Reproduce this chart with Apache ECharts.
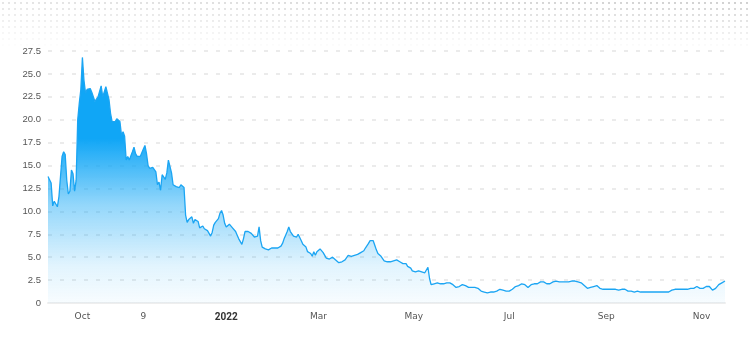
<!DOCTYPE html>
<html>
<head>
<meta charset="utf-8">
<script src="https://cdn.jsdelivr.net/npm/echarts@6/dist/echarts.min.js"></script>
<style>
  html, body { margin:0; padding:0; background:#ffffff; }
  #wrap { position:relative; width:750px; height:343px; overflow:hidden; }
  #dotsH { position:absolute; left:0; top:0; width:750px; height:50px;
    -webkit-mask-image: linear-gradient(to right, rgba(0,0,0,0.55), rgba(0,0,0,1));
    mask-image: linear-gradient(to right, rgba(0,0,0,0.55), rgba(0,0,0,1)); }
  #dots { width:100%; height:100%;
    background-image: radial-gradient(circle, #cfcfcf 1px, rgba(255,255,255,0) 1.4px);
    background-size: 6px 6px;
    -webkit-mask-image: linear-gradient(to bottom, rgba(0,0,0,1), rgba(0,0,0,0));
    mask-image: linear-gradient(to bottom, rgba(0,0,0,1), rgba(0,0,0,0)); }
  #chart { position:absolute; left:0; top:0; width:750px; height:343px; }
</style>
</head>
<body>
<div id="wrap">
  <div id="dotsH"><div id="dots"></div></div>
  <div id="chart"></div>
</div>
<script>
// ---- data ----
const startDate = '2021-09-09'; // one value per day from this date
const prices = [
  13.8, 13.6, 13.1, 10.6, 11.1, 11.2, 10.5, 11.6, 11.7, 16.0,
  16.5, 16.2, 13.4, 11.9, 12.2, 14.5, 14.1, 12.2, 13.4, 20.0,
  21.8, 23.3, 26.8, 24.3, 22.9, 23.3, 23.5, 23.4, 23.0, 23.1,
  22.0, 22.0, 22.5, 23.1, 23.7, 22.5, 22.5, 23.6, 22.9, 22.2,
  20.7, 19.8, 19.9, 19.8, 20.1, 20.3, 19.8, 18.3, 18.7, 18.2,
  15.6, 16.0, 15.6, 15.5, 16.5, 17.0, 16.3, 16.0, 15.9, 16.0,
  15.9, 16.8, 17.2, 16.3, 15.0, 14.7, 14.6, 14.8, 14.6, 14.3,
  12.9, 13.2, 12.3, 14.0, 14.1, 13.5, 14.2, 15.6, 14.9, 14.2,
  12.9, 12.9, 12.7, 12.5, 12.6, 12.9, 13.1, 12.6, 9.6, 8.8,
  9.1, 9.0, 9.4, 8.7, 9.1, 9.1, 8.9, 8.2, 8.4, 8.4,
  8.1, 8.2, 7.9, 7.7, 7.3, 7.7, 8.5, 8.8, 8.9, 9.2,
  9.8, 10.1, 9.6, 8.7, 8.3, 8.3, 8.6, 8.4, 8.2, 8.1,
  7.8, 7.4, 7.0, 6.7, 6.4, 7.0, 7.8, 7.7, 7.8, 7.9,
  7.6, 7.4, 7.2, 7.0, 7.3, 8.3, 6.8, 6.1, 5.9, 5.9,
  5.9, 5.8, 5.8, 6.0, 5.8, 6.0, 5.9, 6.0, 5.9, 6.2,
  6.5, 7.0, 7.4, 7.8, 8.3, 7.8, 8.0, 7.3, 7.1, 7.2,
  7.5, 7.5, 6.8, 6.4, 6.4, 6.1, 5.6, 5.4, 5.4, 5.1,
  5.6, 5.2, 5.6, 5.5, 5.9, 6.0, 5.5, 5.2, 4.9, 4.9,
  4.8, 4.9, 5.0, 4.8, 4.7, 4.6, 4.4, 4.5, 4.5, 4.6,
  4.7, 4.9, 5.2, 5.0, 5.1, 5.1, 5.2, 5.2, 5.3, 5.4,
  5.5, 5.7, 5.7, 6.0, 6.2, 6.5, 6.8, 7.0, 6.8, 6.3,
  5.8, 5.4, 5.4, 5.1, 5.0, 4.6, 4.6, 4.5, 4.6, 4.5,
  4.6, 4.6, 4.6, 4.7, 4.6, 4.5, 4.5, 4.3, 4.4, 4.3,
  4.0, 4.0, 3.8, 3.5, 3.5, 3.4, 3.5, 3.5, 3.4, 3.4,
  3.5, 3.3, 3.5, 3.9, 2.7, 2.0, 1.9, 2.1, 2.0, 2.2,
  2.0, 2.1, 2.2, 2.1, 2.0, 2.2, 2.1, 2.2, 2.0, 2.0,
  1.8, 1.7, 1.8, 1.8, 1.9, 2.0, 1.9, 1.9, 1.8, 1.7,
  1.7, 1.7, 1.7, 1.7, 1.6, 1.6, 1.5, 1.3, 1.2, 1.2,
  1.2, 1.1, 1.1, 1.2, 1.2, 1.2, 1.3, 1.3, 1.4, 1.5,
  1.4, 1.4, 1.4, 1.3, 1.3, 1.3, 1.4, 1.5, 1.5, 1.8,
  2.0, 1.9, 2.0, 2.1, 2.2, 2.0, 1.8, 1.7, 1.9, 2.0,
  2.0, 2.1, 2.2, 2.1, 2.2, 2.3, 2.4, 2.3, 2.2, 2.1,
  2.2, 2.1, 2.2, 2.3, 2.4, 2.4, 2.4, 2.3, 2.3, 2.3,
  2.3, 2.3, 2.4, 2.3, 2.4, 2.4, 2.3, 2.4, 2.3, 2.3,
  2.2, 2.2, 2.0, 1.9, 1.7, 1.6, 1.6, 1.7, 1.7, 1.8,
  1.8, 1.9, 1.7, 1.6, 1.5, 1.5, 1.5, 1.5, 1.5, 1.5,
  1.5, 1.5, 1.5, 1.5, 1.4, 1.4, 1.5, 1.5, 1.6, 1.5,
  1.4, 1.3, 1.3, 1.3, 1.2, 1.2, 1.2, 1.3, 1.3, 1.2,
  1.2, 1.2, 1.3, 1.2, 1.3, 1.2, 1.2, 1.2, 1.2, 1.2,
  1.2, 1.2, 1.2, 1.2, 1.2, 1.2, 1.2, 1.2, 1.3, 1.4,
  1.5, 1.5, 1.4, 1.5, 1.4, 1.5, 1.5, 1.5, 1.5, 1.5,
  1.5, 1.6, 1.6, 1.6, 1.7, 1.8, 1.7, 1.6, 1.5, 1.6,
  1.6, 1.8, 1.9, 1.8, 1.6, 1.4, 1.3, 1.6, 1.8, 2.0,
  2.0, 2.2, 2.4, 2.4
];
const tickDates = ['2021-10-01', '2021-11-09', '2022-01-01', '2022-03-01', '2022-05-01', '2022-07-01', '2022-09-01', '2022-11-01'];
const tickLabels = ['Oct', '9', '2022', 'Mar', 'May', 'Jul', 'Sep', 'Nov'];
const yMin = 0, yMax = 27.5, yStep = 2.5;

// ---- build ----
const DAY = 86400000;
const t0 = Date.parse(startDate);
const seriesData = prices.map((v, i) => [t0 + i * DAY, v]);
const tickTs = tickDates.map(d => Date.parse(d));
const labelMap = {};
tickTs.forEach((t, i) => { labelMap[t] = tickLabels[i]; });

const chart = echarts.init(document.getElementById('chart'), null, { renderer: 'canvas' });
chart.setOption({
  animation: false,
  backgroundColor: 'transparent',
  grid: { left: 48, right: 25, top: 51, bottom: 40 },
  xAxis: {
    type: 'value',
    min: t0,
    max: t0 + (prices.length - 1) * DAY,
    axisLine: { show: true, lineStyle: { color: '#eeeeee', width: 2 } },
    axisTick: { show: false },
    splitLine: { show: false },
    axisLabel: {
      customValues: tickTs,
      margin: 9,
      color: '#555555',
      fontFamily: 'DejaVu Sans',
      fontSize: 9,
      formatter: v => {
        const s = labelMap[v] || '';
        return s === '2022' ? '{b|' + s + '}' : s;
      },
      rich: { b: { fontFamily: 'Roboto', fontWeight: 'bold', fontSize: 10, color: '#333333' } }
    }
  },
  yAxis: {
    type: 'value',
    min: yMin, max: yMax, interval: yStep,
    axisLine: { show: false },
    axisTick: { show: false },
    axisLabel: {
      margin: 7,
      color: '#555555',
      fontFamily: 'Liberation Sans',
      fontSize: 9.5,
      formatter: v => (v === 0 ? '0' : v.toFixed(1))
    },
    splitLine: { show: true, lineStyle: { color: '#ebebeb', width: 2, type: [4, 8] } }
  },
  series: [{
    type: 'line',
    data: seriesData,
    showSymbol: false,
    symbol: 'none',
    lineStyle: { color: '#1ba5f3', width: 1.3 },
    areaStyle: {
      opacity: 1,
      color: new echarts.graphic.LinearGradient(0, 0, 0, 1, [
        { offset: 0, color: 'rgba(16,166,246,1)' },
        { offset: 0.33, color: 'rgba(16,166,246,1)' },
        { offset: 0.6, color: 'rgba(16,166,246,0.45)' },
        { offset: 0.85, color: 'rgba(16,166,246,0.12)' },
        { offset: 1, color: 'rgba(16,166,246,0.03)' }
      ])
    }
  }]
});
</script>
</body>
</html>
